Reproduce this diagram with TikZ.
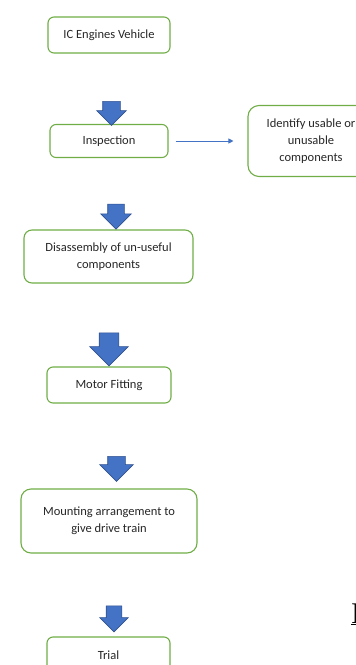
\documentclass[tikz,border=0pt]{standalone}
\usepackage{fontspec}
\setmainfont{Carlito}
\newfontfamily\cutfont{Liberation Serif}
\usetikzlibrary{arrows.meta,shapes.arrows}
\definecolor{boxgreen}{HTML}{70AD47}
\definecolor{flowblue}{HTML}{4472C4}
\definecolor{flowedge}{HTML}{2F528F}

\begin{document}
\begin{tikzpicture}[
    x=1pt, y=-1pt,
    every node/.style={font=\fontsize{12.5}{17}\selectfont, align=center, text=black!85},
    stage/.style={draw=boxgreen, line width=1.1pt, rounded corners=6pt, inner sep=0pt},
    downarrow/.style={single arrow, draw=flowedge, fill=flowblue, line width=0.6pt, rotate=-90, inner xsep=0pt, single arrow head indent=0pt},
    link/.style={flowblue, line width=0.8pt, -{Triangle[length=5pt,width=5pt]}}
  ]
    \useasboundingbox (0,0) rectangle (356,665);

    % Main stages
    \node[stage, minimum width=122pt, minimum height=36pt] (vehicle) at (109,35) {IC Engines Vehicle};
    \node[stage, minimum width=118pt, minimum height=33pt] (inspect) at (109,141) {Inspection};
    \node[stage, minimum width=126pt, minimum height=71pt, rounded corners=11pt] (identify) at (311,141) {Identify usable or\\unusable\\components};
    \node[stage, minimum width=169pt, minimum height=53pt, rounded corners=8pt] (disassembly) at (108.5,256.5) {Disassembly of un-useful\\components};
    \node[stage, minimum width=124pt, minimum height=36pt] (motor) at (109,385) {Motor Fitting};
    \node[stage, minimum width=176pt, minimum height=64pt, rounded corners=10pt] (mounting) at (109,521) {Mounting arrangement to\\give drive train};
    \node[stage, minimum width=123pt, minimum height=36pt] (trial) at (108.5,655) {Trial};

    % Block arrows between stages
    \node[downarrow, minimum height=24pt, inner ysep=8.5pt, single arrow head extend=6pt] (down1) at (111.5,109) {};
    \node[downarrow, minimum height=25pt, inner ysep=8pt, single arrow head extend=7pt] (down2) at (116,212.5) {};
    \node[downarrow, minimum height=33pt, inner ysep=9.5pt, single arrow head extend=9.5pt] (down3) at (109,344.5) {};
    \node[downarrow, minimum height=25pt, inner ysep=8.5pt, single arrow head extend=8pt] (down4) at (116.5,464.5) {};
    \node[downarrow, minimum height=26pt, inner ysep=7.5pt, single arrow head extend=6.5pt] (down5) at (114,615) {};

    % Side branch
    \draw[link, shorten <=7pt, shorten >=14pt] (inspect) -- (identify);

    % Cut-off text at the right edge
    \node[anchor=base west, inner sep=0pt, font=\cutfont\fontsize{30}{30}\selectfont, text=black] (cutmark) at (351,623) {\underline{I}};
  \end{tikzpicture}
\end{document}
